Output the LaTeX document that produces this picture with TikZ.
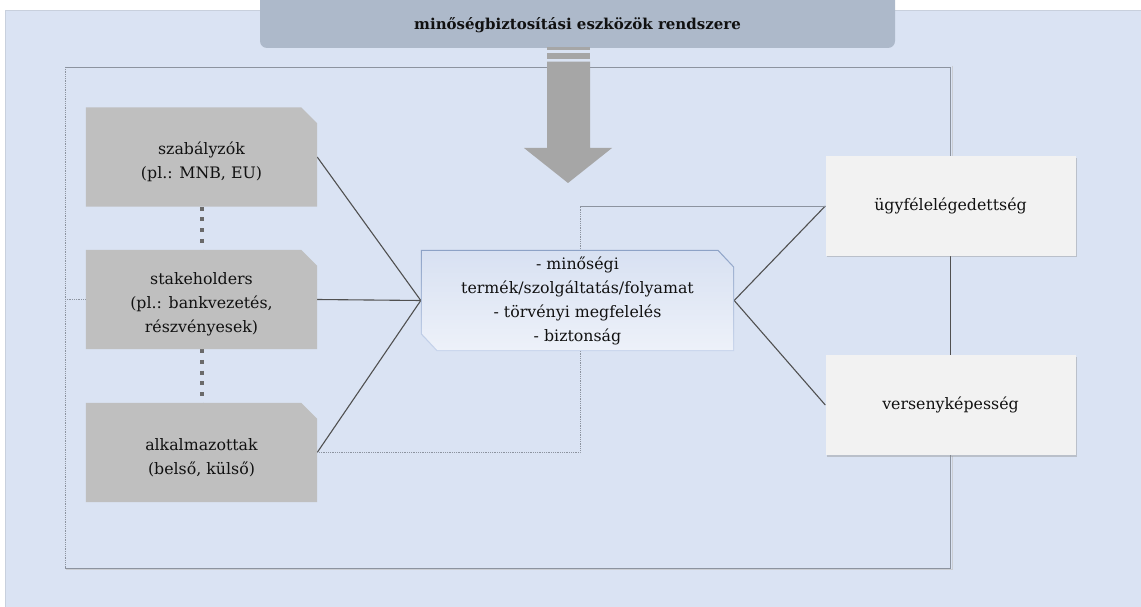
\documentclass[tikz,border=0pt]{standalone}
\usepackage{fontspec}
\setmainfont{DejaVu Serif}
\usetikzlibrary{shadows}
\pgfdeclarelayer{bg}
\pgfdeclarelayer{lines}
\pgfdeclarelayer{fills}
\pgfsetlayers{bg,lines,fills,main}

\definecolor{pagebg}{HTML}{DAE3F3}
\definecolor{pageedge}{HTML}{C8D0DD}
\definecolor{banner}{HTML}{ADB9CA}
\definecolor{srcgray}{HTML}{BFBFBF}
\definecolor{dotgray}{HTML}{6A6A6A}
\definecolor{linkgray}{HTML}{505050}
\definecolor{framegray}{HTML}{8C939F}
\definecolor{arrowgray}{HTML}{A6A6A6}
\definecolor{resultfill}{HTML}{F2F2F2}
\definecolor{hubedgetop}{HTML}{8DA2C6}
\definecolor{hubedgebot}{HTML}{C8D5EC}
\definecolor{hubtop}{HTML}{D8E1F2}
\definecolor{hubbot}{HTML}{EDF1F9}
\definecolor{ink}{HTML}{111111}

\begin{document}
\begin{tikzpicture}[x=1pt,y=-1pt,
  txt/.style={font=\fontsize{15.8}{24}\selectfont, align=center, text=ink, inner sep=0pt},
  srcbox/.style={minimum width=231pt, minimum height=99pt, inner sep=0pt},
  hubbox/.style={minimum width=313pt, minimum height=101pt, inner sep=0pt},
  resbox/.style={minimum width=250pt, minimum height=99pt, inner sep=0pt,
    fill=resultfill, drop shadow={shadow xshift=1pt, shadow yshift=-1.5pt, opacity=.35},
    font=\fontsize{15.8}{24}\selectfont, text=ink},
  link/.style={draw=linkgray, line width=1.1pt},
  stack/.style={draw=dotgray, line width=4pt, dash pattern=on 4pt off 6.7pt},
  finedots/.style={draw=framegray, line width=0.9pt, dash pattern=on 0.9pt off 0.9pt},
  plainline/.style={draw=framegray, line width=0.9pt},
]
\useasboundingbox (0,0) rectangle (1141,607);

% page panel and title banner
\begin{pgfonlayer}{bg}
  \fill[pagebg] (5,10) rectangle (1141,607);
  \draw[pageedge, line width=0.8pt] (5,607) -- (5,10) -- (1141,10);
  \fill[banner, rounded corners=7pt] (260,-8) rectangle (895,48);
\end{pgfonlayer}
\node[font=\bfseries\fontsize{15}{18}\selectfont, text=ink] (title) at (577.5,25) {minőségbiztosítási eszközök rendszere};

% source boxes
\node[srcbox] (b1) at (201.5,157) {};
\node[srcbox] (b2) at (201.5,299.5) {};
\node[srcbox] (b3) at (201.5,452.5) {};
\node[txt] (b1t) at (201.5,162) {szabályzók\\(pl.: MNB, EU)};
\node[txt] (b2t) at (201.5,304) {stakeholders\\(pl.: bankvezetés,\\részvényesek)};
\node[txt] (b3t) at (201.5,458) {alkalmazottak\\(belső, külső)};

% central hub
\node[hubbox] (c) at (577.5,300.5) {};
\node[txt] (ct) at (577.5,301) {- minőségi\\termék/szolgáltatás/folyamat\\- törvényi megfelelés\\- biztonság};

% results
\node[resbox] (u) at (950.5,206) {ügyfélelégedettség};
\node[resbox, minimum height=100pt] (v) at (950.5,405) {versenyképesség};

% outer frame, with a soft shadow on its right and bottom edges
\begin{pgfonlayer}{bg}
  \draw[plainline] (65,67) -- (950.5,67);
  \draw[plainline] (950.5,67) -- (u.north);
  \draw[plainline] (v.south) -- (950.5,568) -- (65,568);
  \draw[draw=framegray!45, line width=0.8pt] (952,66) -- (952,156);
  \draw[draw=framegray!45, line width=0.8pt] (952,456) -- (952,569.5) -- (66,569.5);
  \draw[finedots] (65,67) -- (65,568);
\end{pgfonlayer}

% shapes of the source boxes and hub
\begin{pgfonlayer}{fills}
  \foreach \n in {b1,b2,b3}
    \fill[srcgray] (\n.north west) -- ([xshift=-16pt]\n.north east) -- ([yshift=-16pt]\n.north east)
      -- (\n.south east) -- (\n.south west) -- cycle;
  \shade[top color=hubedgetop, bottom color=hubedgebot]
    (c.north west) -- ([xshift=-16pt]c.north east) -- ([yshift=-17pt]c.north east)
    -- (c.south east) -- ([xshift=16pt]c.south west) -- ([yshift=17pt]c.south west) -- cycle;
  \shade[top color=hubtop, bottom color=hubbot]
    ([shift={(1.2pt,-1.2pt)}]c.north west) -- ([shift={(-16.5pt,-1.2pt)}]c.north east)
    -- ([shift={(-1.2pt,-17.5pt)}]c.north east) -- ([shift={(-1.2pt,1.2pt)}]c.south east)
    -- ([shift={(16.5pt,1.2pt)}]c.south west) -- ([shift={(1.2pt,17.5pt)}]c.south west) -- cycle;
  % block arrow from the banner
  \fill[arrowgray] (547,47.5) rectangle (590,50);
  \fill[arrowgray] (547,53.3) rectangle (590,59);
  \fill[arrowgray] (547,61.7) -- (590,61.7) -- (590,148) -- (612,148) -- (568,183)
    -- (524,148) -- (547,148) -- cycle;
\end{pgfonlayer}

% connectors
\coordinate (rail) at (65,299.5);
\coordinate (elbow) at (580,206);
\begin{pgfonlayer}{lines}
  \draw[link] (b1.east) -- (c.west);
  \draw[link] (b2.east) -- (c.west);
  \draw[link] (b3.east) -- (c.west);
  \draw[link] (c.east) -- (u.west);
  \draw[link] (c.east) -- (v.west);
  \draw[link, line width=1pt] (u.south) -- (v.north);
  \draw[stack] (b1.south) -- (b2.north);
  \draw[stack] (b2.south) -- (b3.north);
  \draw[finedots] (rail) -- (b2.west);
  \draw[finedots] (b3.east) -| (elbow);
  \draw[plainline] (elbow) -- (u.west);
\end{pgfonlayer}
\end{tikzpicture}
\end{document}
